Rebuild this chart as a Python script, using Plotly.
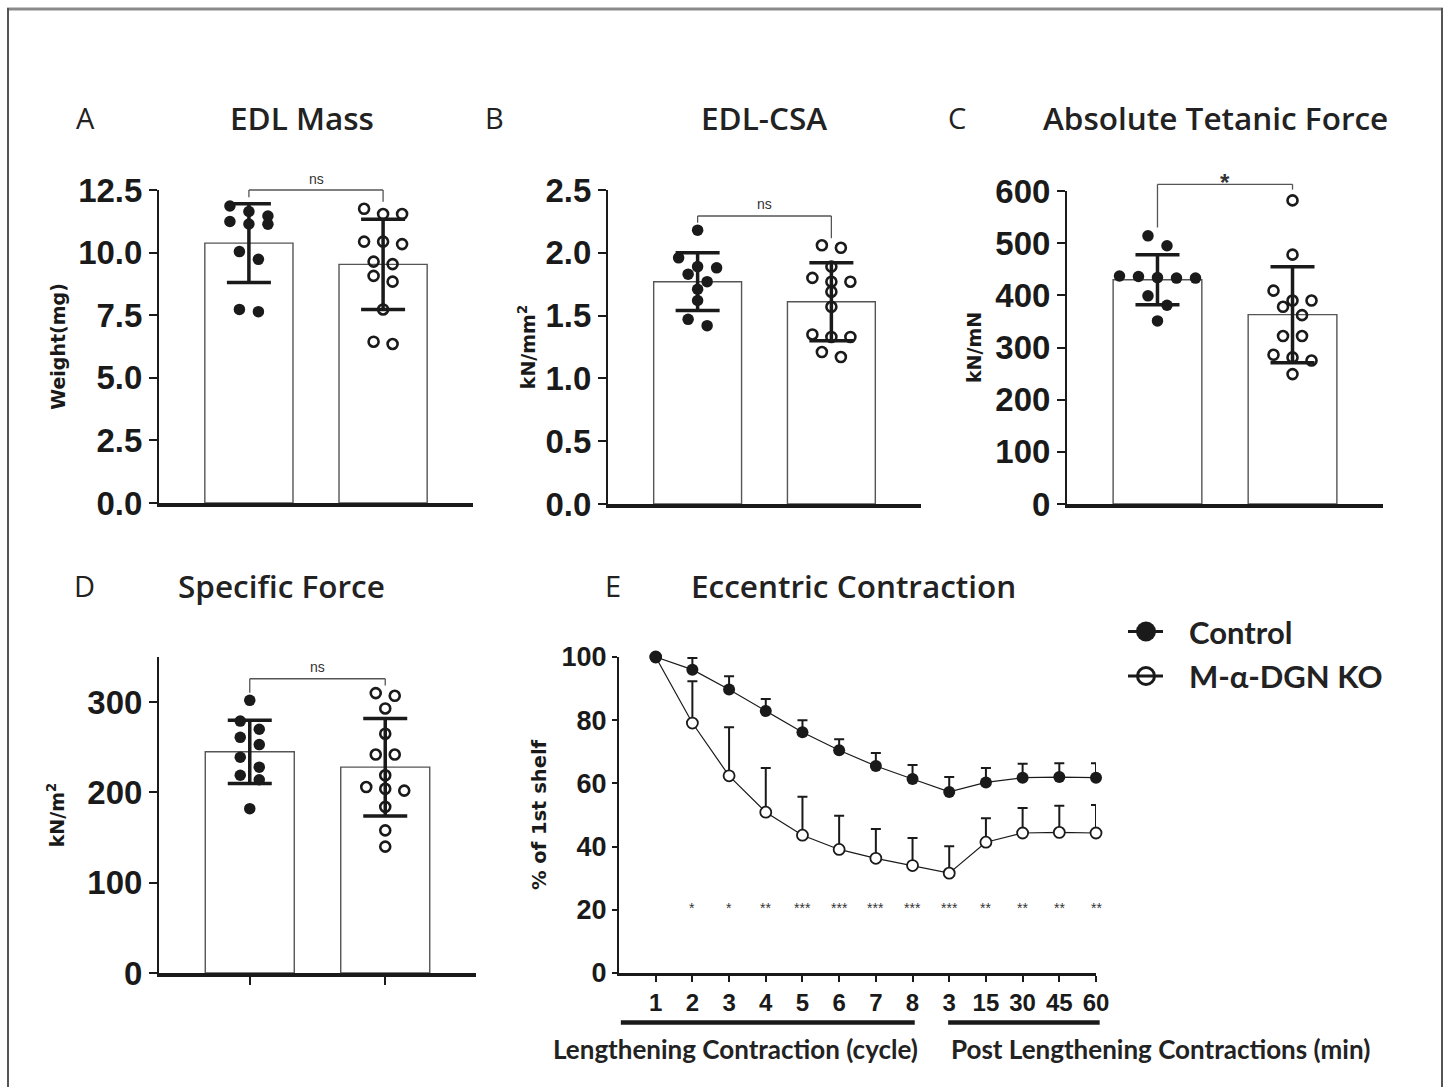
import plotly.graph_objects as go

W, H = 1448, 1087

# ---------------- data ----------------
groups = ["Control", "M-α-DGN KO"]

mass_ctrl = [11.86, 11.64, 11.46, 11.24, 11.14, 11.13, 10.04, 9.73, 7.73, 7.64]
mass_ko = [11.75, 11.54, 11.54, 10.44, 10.44, 10.34, 9.64, 9.54, 9.07, 8.84, 7.73, 6.44, 6.35]
mass_mean = [10.38, 9.53]
mass_sd = [1.57, 1.80]

csa_ctrl = [2.18, 1.96, 1.89, 1.88, 1.83, 1.77, 1.71, 1.62, 1.47, 1.42]
csa_ko = [2.06, 2.04, 1.89, 1.80, 1.77, 1.77, 1.69, 1.57, 1.35, 1.33, 1.33, 1.21, 1.17]
csa_mean = [1.77, 1.61]
csa_sd = [0.23, 0.31]

force_ctrl = [514, 495, 437, 436, 434, 433, 433, 399, 381, 351]
force_ko = [582, 478, 409, 390, 390, 378, 362, 322, 322, 286, 281, 275, 249]
force_mean = [430, 363]
force_sd = [48, 92]

spec_ctrl = [302, 279, 270, 261, 253, 239, 228, 219, 214, 182]
spec_ko = [310, 307, 293, 265, 242, 242, 219, 206, 204, 202, 184, 158, 140]
spec_mean = [245, 228]
spec_sd = [35, 54]

ecc_labels = ["1", "2", "3", "4", "5", "6", "7", "8", "3", "15", "30", "45", "60"]
ecc_ctrl = [100, 96.0, 89.7, 82.9, 76.2, 70.5, 65.5, 61.4, 57.3, 60.3, 61.8, 62.0, 61.8]
ecc_ctrl_err = [None, 3.7, 4.2, 3.8, 3.8, 3.5, 4.1, 4.4, 4.7, 4.6, 4.4, 4.4, 4.6]
ecc_ko = [100, 79.1, 62.4, 50.9, 43.6, 39.1, 36.3, 34.0, 31.6, 41.4, 44.3, 44.5, 44.3]
ecc_ko_err = [None, 13.2, 15.4, 14.0, 12.2, 10.7, 9.3, 8.7, 8.5, 7.6, 7.9, 8.4, 8.9]
ecc_sig = ["", "*", "*", "**", "***", "***", "***", "***", "***", "**", "**", "**", "**"]

# ---------------- styling helpers ----------------
INK = "#1a1a1a"
TXT = "#222222"
TITLE_FONT = "Open Sans"
LABEL_FONT = "Lato"
TICK_FONT = "Liberation Sans"
AXT_FONT = "DejaVu Sans"

BAR_XRANGE = [-0.67, 1.67]
BAR_WIDTH = 0.657


def xdom(a, b):
    return [a / W, b / W]


def ydom(top, bottom):
    return [1 - bottom / H, 1 - top / H]


def to_paper(dom, rng, v):
    return dom[0] + (v - rng[0]) / (rng[1] - rng[0]) * (dom[1] - dom[0])


def swarm(values, center, ypx_per_unit, xpx_per_unit, spacing=19.0, tol=11.0):
    """GraphPad-like scatter: points within `tol` px of a row's top are spread symmetrically."""
    order = sorted(range(len(values)), key=lambda i: -values[i])
    rows = []
    for i in order:
        if rows and (values[rows[-1][0]] - values[i]) * ypx_per_unit <= tol:
            rows[-1].append(i)
        else:
            rows.append([i])
    xs = [0.0] * len(values)
    for row in rows:
        n = len(row)
        for k, i in enumerate(row):
            xs[i] = center + (k - (n - 1) / 2) * spacing / xpx_per_unit
    return xs


panels = [
    dict(n=1, letter="A", title="EDL Mass", ytitle="Weight(mg)", xpx=(159, 473), ypx=(190, 503),
         yrange=[0, 12.5], tickvals=[0, 2.5, 5, 7.5, 10, 12.5], fmt=".1f",
         ctrl=mass_ctrl, ko=mass_ko, mean=mass_mean, sd=mass_sd,
         sig="ns", br=(12.5, 12.21, 12.03, 12.95), xticks=False,
         letter_px=(85, 118), title_px=(302, 118), standoff=8),
    dict(n=2, letter="B", title="EDL-CSA", ytitle="kN/mm<sup>2</sup>", xpx=(608, 921), ypx=(190, 504),
         yrange=[0, 2.5], tickvals=[0, 0.5, 1, 1.5, 2, 2.5], fmt=".1f",
         ctrl=csa_ctrl, ko=csa_ko, mean=csa_mean, sd=csa_sd,
         sig="ns", br=(2.293, 2.24, 2.116, 2.39), xticks=False,
         letter_px=(495, 118), title_px=(764, 118), standoff=5),
    dict(n=3, letter="C", title="Absolute Tetanic Force", ytitle="kN/mN", xpx=(1067, 1383), ypx=(191, 504),
         yrange=[0, 600], tickvals=[0, 100, 200, 300, 400, 500, 600], fmt="d",
         ctrl=force_ctrl, ko=force_ko, mean=force_mean, sd=force_sd,
         sig="*", br=(612.8, 530, 602.6, 617), xticks=False,
         letter_px=(957, 118), title_px=(1215, 118), standoff=9),
    dict(n=4, letter="D", title="Specific Force", ytitle="kN/m<sup>2</sup>", xpx=(159, 476), ypx=(657, 973),
         yrange=[0, 350], tickvals=[0, 100, 200, 300], fmt="d",
         ctrl=spec_ctrl, ko=spec_ko, mean=spec_mean, sd=spec_sd,
         sig="ns", br=(325.9, 310.4, 318.4, 339), xticks=True,
         letter_px=(84, 585), title_px=(281, 585), standoff=18),
]

fig = go.Figure()
layout = dict(
    width=W, height=H, margin=dict(l=0, r=0, t=0, b=0),
    paper_bgcolor="white", plot_bgcolor="white", template="none",
    showlegend=False,
)
annotations = []
shapes = []


def add_text(xp, yp, text, size, family=TITLE_FONT, weight="normal", color=TXT, xanchor="center"):
    annotations.append(dict(
        x=xp / W, y=1 - yp / H, xref="paper", yref="paper", text=text, showarrow=False,
        xanchor=xanchor, yanchor="middle",
        font=dict(family=family, size=size, color=color, weight=weight),
    ))


for p in panels:
    n = p["n"]
    xs = "" if n == 1 else str(n)
    xd = xdom(*p["xpx"])
    yd = ydom(*p["ypx"])
    xpx_unit = (p["xpx"][1] - p["xpx"][0]) / (BAR_XRANGE[1] - BAR_XRANGE[0])
    ypx_unit = (p["ypx"][1] - p["ypx"][0]) / (p["yrange"][1] - p["yrange"][0])

    layout["xaxis" + xs] = dict(
        domain=xd, range=BAR_XRANGE, anchor="y" + xs, showgrid=False, zeroline=False,
        showline=True, linecolor=INK, linewidth=3.5, showticklabels=False,
        ticks="outside" if p["xticks"] else "", tickvals=[0, 1], ticklen=8, tickwidth=2, tickcolor=INK,
        fixedrange=True,
    )
    layout["yaxis" + xs] = dict(
        domain=yd, range=p["yrange"], anchor="x" + xs, showgrid=False, zeroline=False,
        showline=True, linecolor=INK, linewidth=2, ticks="outside", ticklen=8, tickwidth=2,
        tickcolor=INK, tickvals=p["tickvals"], tickformat=p["fmt"],
        tickfont=dict(family=TICK_FONT, size=33, color=INK, weight="bold"),
        title=dict(text=p["ytitle"], standoff=p["standoff"],
                   font=dict(family=AXT_FONT, size=19, color=INK, weight="bold")),
        fixedrange=True,
    )

    fig.add_trace(go.Bar(
        x=[0, 1], y=p["mean"], width=BAR_WIDTH, xaxis="x" + xs, yaxis="y" + xs,
        marker=dict(color="white", line=dict(color="#555555", width=1.4)),
        error_y=dict(type="data", array=p["sd"], visible=True, color=INK, thickness=3.5, width=22),
        hoverinfo="skip",
    ))
    fig.add_trace(go.Scatter(
        x=swarm(p["ctrl"], 0, ypx_unit, xpx_unit), y=p["ctrl"], mode="markers",
        xaxis="x" + xs, yaxis="y" + xs, name=groups[0], cliponaxis=False,
        marker=dict(symbol="circle", size=11.5, color=INK, line=dict(width=0)),
    ))
    fig.add_trace(go.Scatter(
        x=swarm(p["ko"], 1, ypx_unit, xpx_unit), y=p["ko"], mode="markers",
        xaxis="x" + xs, yaxis="y" + xs, name=groups[1], cliponaxis=False,
        marker=dict(symbol="circle-open", size=10, color=INK, line=dict(width=2.6)),
    ))

    # significance bracket (paper coords so it is never clipped)
    top, lleg, rleg, ty = p["br"]
    x0p = to_paper(xd, BAR_XRANGE, 0)
    x1p = to_paper(xd, BAR_XRANGE, 1)
    xmp = to_paper(xd, BAR_XRANGE, 0.5)
    ytp = to_paper(yd, p["yrange"], top)
    ylp = to_paper(yd, p["yrange"], lleg)
    yrp = to_paper(yd, p["yrange"], rleg)
    bline = dict(color="#555555", width=1.3)
    shapes.append(dict(type="line", xref="paper", yref="paper", x0=x0p, x1=x1p, y0=ytp, y1=ytp, line=bline))
    shapes.append(dict(type="line", xref="paper", yref="paper", x0=x0p, x1=x0p, y0=ylp, y1=ytp, line=bline))
    shapes.append(dict(type="line", xref="paper", yref="paper", x0=x1p, x1=x1p, y0=yrp, y1=ytp, line=bline))
    star = p["sig"] == "*"
    annotations.append(dict(
        x=xmp, y=to_paper(yd, p["yrange"], ty), xref="paper", yref="paper", text=p["sig"], showarrow=False,
        xanchor="center", yanchor="middle",
        font=dict(family=TICK_FONT, size=24 if star else 14, color="#333333",
                  weight="bold" if star else "normal"),
    ))

    add_text(*p["letter_px"], p["letter"], 29, weight="normal")
    add_text(*p["title_px"], p["title"], 31.5, weight=600)

# ---------------- panel E ----------------
e_xd = xdom(619, 1096)
e_yd = ydom(657, 973)
e_rx = [0, 13]
e_x = list(range(1, len(ecc_labels) + 1))

layout["xaxis5"] = dict(
    domain=e_xd, range=e_rx, anchor="y5", showgrid=False, zeroline=False,
    showline=True, linecolor=INK, linewidth=2.5, ticks="outside", ticklen=6, tickwidth=2, tickcolor=INK,
    tickvals=e_x, ticktext=ecc_labels,
    tickfont=dict(family=TICK_FONT, size=24, color=INK, weight="bold"), fixedrange=True,
)
layout["yaxis5"] = dict(
    domain=e_yd, range=[0, 100], anchor="x5", showgrid=False, zeroline=False,
    showline=True, linecolor=INK, linewidth=2, ticks="outside", ticklen=5, tickwidth=2, tickcolor=INK,
    tickvals=[0, 20, 40, 60, 80, 100],
    tickfont=dict(family=TICK_FONT, size=27, color=INK, weight="bold"),
    title=dict(text="% of 1st shelf", standoff=10,
               font=dict(family=AXT_FONT, size=19.5, color=INK, weight="bold")),
    fixedrange=True,
)

fig.add_trace(go.Scatter(
    x=e_x, y=ecc_ko, mode="lines+markers", xaxis="x5", yaxis="y5", name=groups[1], cliponaxis=False,
    line=dict(color=INK, width=1.2),
    marker=dict(symbol="circle", size=11, color="white", line=dict(color=INK, width=1.8)),
    error_y=dict(type="data", array=ecc_ko_err, arrayminus=[0] * len(ecc_ko_err), symmetric=False,
                 color=INK, thickness=2, width=5),
))
fig.add_trace(go.Scatter(
    x=e_x, y=ecc_ctrl, mode="lines+markers", xaxis="x5", yaxis="y5", name=groups[0], cliponaxis=False,
    line=dict(color=INK, width=1.2),
    marker=dict(symbol="circle", size=12, color=INK, line=dict(width=0)),
    error_y=dict(type="data", array=ecc_ctrl_err, arrayminus=[0] * len(ecc_ctrl_err), symmetric=False,
                 color=INK, thickness=2, width=5),
))

for xv, s in zip(e_x, ecc_sig):
    if s:
        annotations.append(dict(
            x=xv, y=20.6, xref="x5", yref="y5", text=s, showarrow=False,
            xanchor="center", yanchor="middle",
            font=dict(family=TICK_FONT, size=14, color="#333333"),
        ))

add_text(613, 585, "E", 29, weight="normal")
add_text(853, 585, "Eccentric Contraction", 31.5, weight=600)

# bottom group lines & labels under panel E x-axis
yl = 1 - 1022.5 / H
for a, b in [(0.05, 8.06), (8.97, 13.1)]:
    shapes.append(dict(type="line", xref="paper", yref="paper",
                       x0=to_paper(e_xd, e_rx, a), x1=to_paper(e_xd, e_rx, b), y0=yl, y1=yl,
                       line=dict(color=INK, width=4.5)))
add_text(735, 1049, "Lengthening Contraction (cycle)", 26, family=LABEL_FONT, weight="bold")
add_text(1160, 1049, "Post Lengthening Contractions (min)", 26, family=LABEL_FONT, weight="bold")

# legend (custom, GraphPad style)
for yy, filled, label in [(631.5, True, groups[0]), (676, False, groups[1])]:
    shapes.append(dict(type="line", xref="paper", yref="paper", x0=1128 / W, x1=1163 / W,
                       y0=1 - yy / H, y1=1 - yy / H, line=dict(color=INK, width=3)))
    r = 10 if filled else 8.5
    shapes.append(dict(type="circle", xref="paper", yref="paper", xsizemode="pixel", ysizemode="pixel",
                       xanchor=1146 / W, yanchor=1 - yy / H, x0=-r, x1=r, y0=-r, y1=r,
                       fillcolor=INK if filled else "rgba(0,0,0,0)",
                       line=dict(color=INK, width=0 if filled else 3)))
    add_text(1187, yy, label, 31, family=LABEL_FONT, weight="bold", xanchor="left")

# outer frame
shapes.append(dict(type="line", xref="paper", yref="paper", x0=7 / W, x1=1443 / W, y0=1 - 9 / H, y1=1 - 9 / H,
                   line=dict(color="#8a8a8a", width=3)))
for xx in (8, 1442):
    shapes.append(dict(type="line", xref="paper", yref="paper", x0=xx / W, x1=xx / W, y0=1 - 8 / H, y1=-0.01,
                       line=dict(color="#555555", width=2)))

layout["annotations"] = annotations
layout["shapes"] = shapes
fig.update_layout(**layout)

fig.write_html("out.html", config={"displayModeBar": False},
               post_script="document.body.style.margin='0px';document.body.style.overflow='hidden';")
